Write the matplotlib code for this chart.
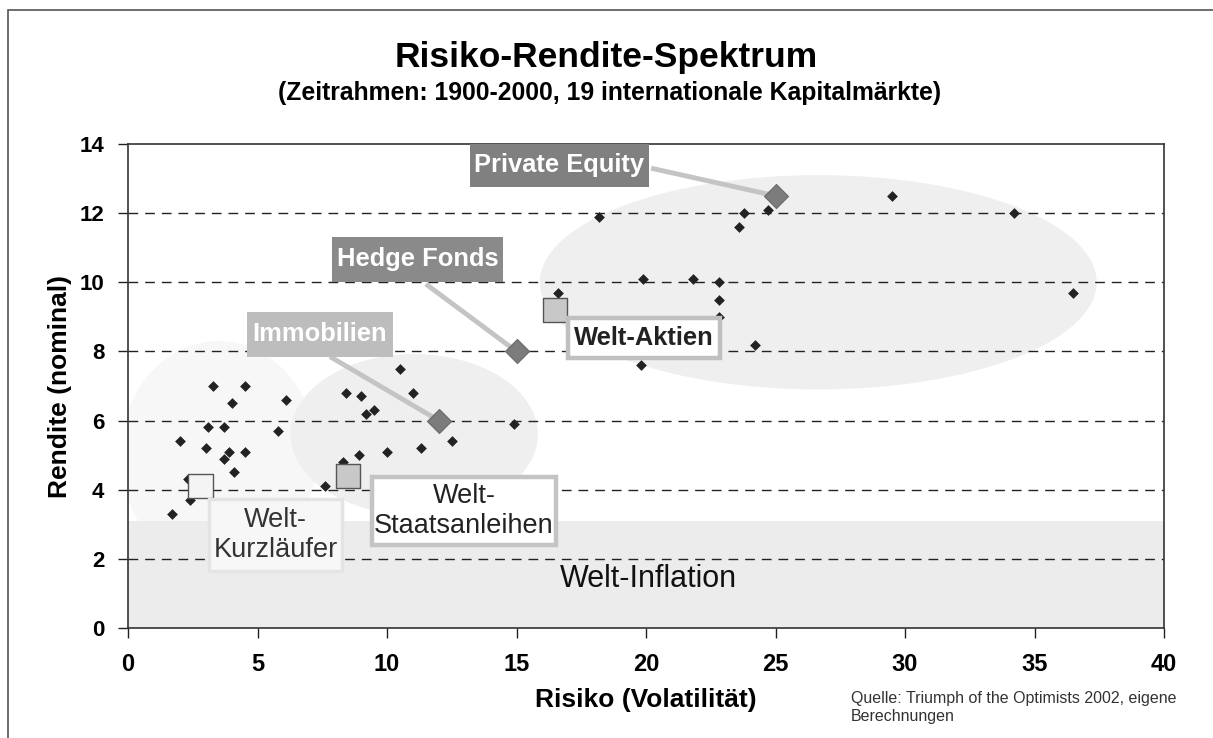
import matplotlib
matplotlib.use("Agg")
import matplotlib.pyplot as plt
from matplotlib.patches import Ellipse, Rectangle

plt.rcParams['font.family'] = ['Liberation Sans', 'DejaVu Sans']

# ---------------- data ----------------
# individual markets (risk, return)
market_risk = [3.3, 4.5, 4.0, 6.1, 3.1, 3.7, 5.8, 2.0, 3.0, 3.9, 4.5, 3.7, 4.1, 2.3, 2.4, 1.7,
               7.6, 8.3, 8.9, 10.0, 11.3, 8.4, 9.0, 9.2, 9.5, 10.5, 11.0, 12.5, 14.9,
               16.6, 18.2, 19.9, 21.8, 22.8, 22.8, 22.8, 24.2, 19.8, 23.6, 23.8, 24.7, 29.5, 34.2, 36.5]
market_return = [7.0, 7.0, 6.5, 6.6, 5.8, 5.8, 5.7, 5.4, 5.2, 5.1, 5.1, 4.9, 4.5, 4.3, 3.7, 3.3,
                 4.1, 4.8, 5.0, 5.1, 5.2, 6.8, 6.7, 6.2, 6.3, 7.5, 6.8, 5.4, 5.9,
                 9.7, 11.9, 10.1, 10.1, 10.0, 9.5, 9.0, 8.2, 7.6, 11.6, 12.0, 12.1, 12.5, 12.0, 9.7]

# alternative investments (diamonds)
alt_names = ['Private Equity', 'Hedge Fonds', 'Immobilien']
alt_risk = [25.0, 15.0, 12.0]
alt_return = [12.5, 8.0, 6.0]

# world indices (squares)
world_names = ['Welt-Aktien', 'Welt-\nStaatsanleihen', 'Welt-\nKurzläufer']
world_risk = [16.5, 8.5, 2.8]
world_return = [9.2, 4.4, 4.1]

inflation = 3.1

x_ticks = [0, 5, 10, 15, 20, 25, 30, 35, 40]
y_ticks = [0, 2, 4, 6, 8, 10, 12, 14]

# ---------------- figure ----------------
W, H = 1213, 738
fig = plt.figure(figsize=(W / 100, H / 100), dpi=100)
fig.patch.set_facecolor('white')

# outer frame (top and left edges visible)
fig.add_artist(Rectangle((8 / W, -0.05), 1.2, (H - 10) / H + 0.05, transform=fig.transFigure,
                         fill=False, edgecolor='#555555', lw=1.2))

ax = fig.add_axes([128 / W, (H - 628) / H, (1164 - 128) / W, (628 - 144) / H])
ax.set_xlim(0, 40)
ax.set_ylim(0, 14)
ax.set_facecolor('white')

# clusters
ax.add_patch(Ellipse((3.5, 5.0), 7.6, 6.6, facecolor='#f7f7f7', edgecolor='none', zorder=0.5))
ax.add_patch(Ellipse((11.05, 5.6), 9.55, 4.65, facecolor='#efefef', edgecolor='none', zorder=0.6))
ax.add_patch(Ellipse((26.65, 10.0), 21.5, 6.2, facecolor='#efefef', edgecolor='none', zorder=0.6))

# inflation band
ax.axhspan(0, inflation, color='#ececec', zorder=0.8, lw=0)

# gridlines
for yv in y_ticks[1:-1]:
    ax.axhline(yv, color='#222222', lw=1.0, ls=(0, (7, 5)), zorder=1)

# markets
ax.scatter(market_risk, market_return, marker='D', s=30, color='#222222', zorder=3, lw=0)

# connectors + alternative diamonds
label_anchor = {
    'Private Equity': (20.2, 13.3),
    'Hedge Fonds': (11.5, 9.95),
    'Immobilien': (7.8, 7.85),
}
for n, xv, yv in zip(alt_names, alt_risk, alt_return):
    ax0, ay0 = label_anchor[n]
    ax.plot([ax0, xv], [ay0, yv], color='#c4c4c4', lw=3.5, zorder=2, solid_capstyle='butt')
ax.scatter(alt_risk, alt_return, marker='D', s=150, color='#7c7c7c', edgecolor='#6a6a6a',
           lw=0.8, zorder=4)

# world squares
sq_face = ['#c8c8c8', '#c8c8c8', '#f4f4f4']
ax.scatter(world_risk, world_return, marker='s', s=300, c=sq_face, edgecolor='#555555',
           lw=1.0, zorder=4)

# label boxes (x0, y0, w, h in data units)
def box(x0, y0, w, h, fc, ec, lw, text, tc, fs, weight='bold', ls=1.0, z=5):
    ax.add_patch(Rectangle((x0, y0), w, h, facecolor=fc, edgecolor=ec, lw=lw, zorder=z,
                           clip_on=False))
    ax.text(x0 + w / 2, y0 + h / 2, text, ha='center', va='center', color=tc, fontsize=fs,
            fontweight=weight, zorder=z + 1, linespacing=ls)

box(13.2, 12.76, 6.92, 1.25, '#808080', 'none', 0, 'Private Equity', 'white', 18.4)
box(7.88, 10.01, 6.6, 1.3, '#8a8a8a', 'none', 0, 'Hedge Fonds', 'white', 18.4)
box(4.59, 7.84, 5.64, 1.3, '#bdbdbd', 'none', 0, 'Immobilien', 'white', 18.4)
box(16.99, 7.82, 5.86, 1.16, 'white', '#c0c0c0', 3.2, 'Welt-Aktien', '#222222', 18.4)
box(9.42, 2.41, 7.1, 1.97, 'white', '#c4c4c4', 3.2, 'Welt-\nStaatsanleihen', '#222222', 19.5,
    weight='normal', ls=1.2)
box(3.14, 1.64, 5.12, 2.1, '#f7f7f7', '#e4e4e4', 2.5, 'Welt-\nKurzläufer', '#333333', 19.5,
    weight='normal', ls=1.2)

ax.text(20.1, 1.42, 'Welt-Inflation', ha='center', va='center', fontsize=22, color='#111111',
        zorder=5)

# axes styling
ax.set_xticks(x_ticks)
ax.set_yticks(y_ticks)
ax.tick_params(direction='out', length=7, width=1, colors='#222222')
ax.tick_params(axis='x', pad=11, labelsize=17)
ax.tick_params(axis='y', pad=10, labelsize=16)
for lab in ax.get_xticklabels() + ax.get_yticklabels():
    lab.set_fontweight('bold')
    lab.set_color('black')
for sp in ax.spines.values():
    sp.set_color('#333333')
    sp.set_linewidth(1.2)

ax.set_xlabel('Risiko (Volatilität)', fontsize=19, fontweight='bold', labelpad=8.5)
ax.set_ylabel('Rendite (nominal)', fontsize=19, fontweight='bold', labelpad=5.5)

fig.text(606 / W, 1 - 57 / H, 'Risiko-Rendite-Spektrum', ha='center', va='center',
         fontsize=25.5, fontweight='bold')
fig.text(610 / W, 1 - 93 / H, '(Zeitrahmen: 1900-2000, 19 internationale Kapitalmärkte)',
         ha='center', va='center', fontsize=17.8, fontweight='bold')
fig.text(851 / W, 1 - 707 / H, 'Quelle: Triumph of the Optimists 2002, eigene\nBerechnungen',
         ha='left', va='center', fontsize=11.5, color='#333333', linespacing=1.25)

fig.savefig('out.png', dpi=100, facecolor='white')
